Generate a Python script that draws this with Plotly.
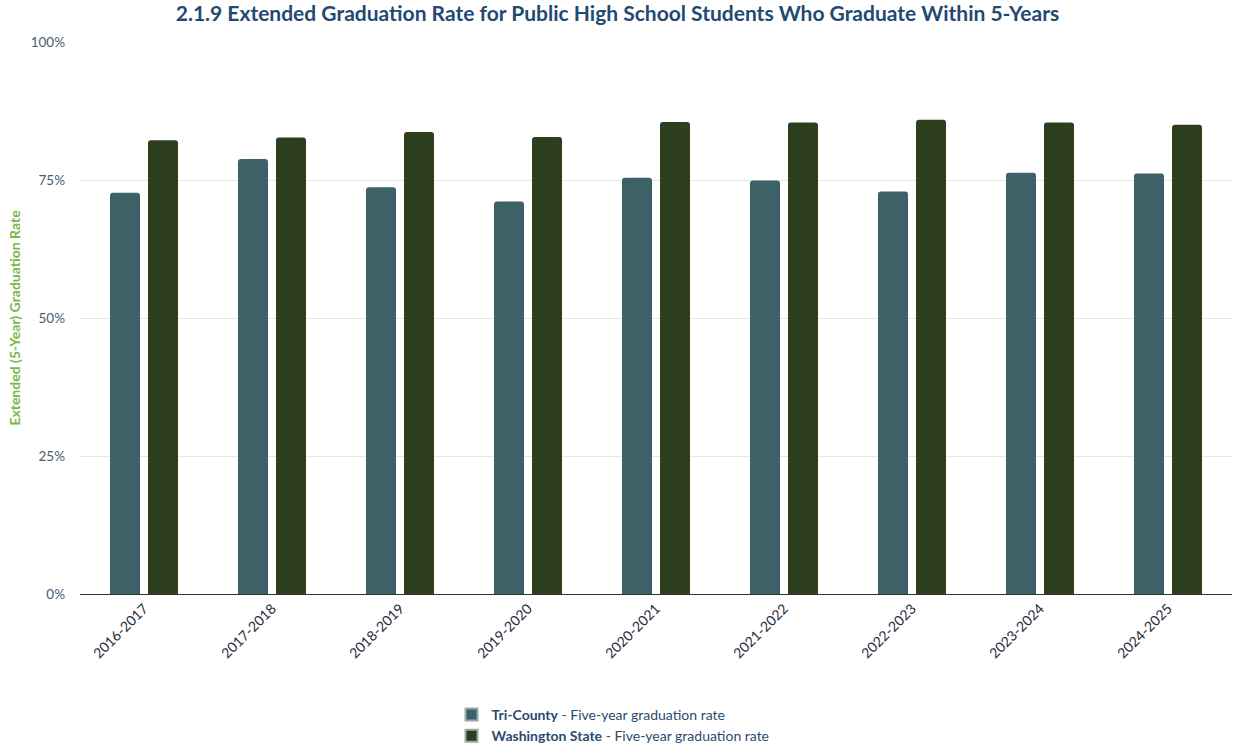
import plotly.graph_objects as go

years = ["2016-2017", "2017-2018", "2018-2019", "2019-2020", "2020-2021",
         "2021-2022", "2022-2023", "2023-2024", "2024-2025"]
tri_county = [72.7, 78.8, 73.7, 71.1, 75.4, 74.9, 72.9, 76.3, 76.2]
washington = [82.2, 82.7, 83.7, 82.8, 85.5, 85.4, 85.9, 85.4, 85.0]
y_ticks = [0, 25, 50, 75, 100]
y_tick_labels = ["0%", "25%", "50%", "75%", "100%"]
series_names = ["<b>Tri-County</b> - Five-year graduation rate",
                "<b>Washington State</b> - Five-year graduation rate"]

TC_COLOR = "#3c6167"
WA_COLOR = "#2d3f1e"

fig = go.Figure()
fig.add_trace(go.Bar(
    x=years, y=tri_county, name=series_names[0], showlegend=False,
    legendgroup="tc", marker=dict(color=TC_COLOR, line=dict(width=0)),
))
fig.add_trace(go.Bar(
    x=years, y=washington, name=series_names[1], showlegend=False,
    legendgroup="wa", marker=dict(color=WA_COLOR, line=dict(width=0)),
))
# legend entries with square swatches
for nm, col, grp in [(series_names[0], TC_COLOR, "tc"), (series_names[1], WA_COLOR, "wa")]:
    fig.add_trace(go.Scatter(
        x=[None], y=[None], mode="markers", name=nm, legendgroup=grp,
        marker=dict(symbol="square", size=12, color=col,
                    line=dict(color="#9aa8a8", width=1)),
    ))

fig.update_layout(
    width=1235, height=748,
    margin=dict(l=80, r=3, t=42, b=154, autoexpand=False),
    paper_bgcolor="white", plot_bgcolor="white",
    font=dict(family="Lato", color="#333333"),
    title=dict(
        text="<b>2.1.9 Extended Graduation Rate for Public High School Students Who Graduate Within 5-Years</b>",
        x=0.5, xanchor="center", y=0.982, yanchor="middle",
        font=dict(family="Lato", size=21, color="#1f4a72"),
    ),
    barmode="group", bargap=0.406, bargroupgap=0.21,
    barcornerradius=3,
    showlegend=True,
    legend=dict(
        orientation="v", x=0.4627, xanchor="center", y=-0.19, yanchor="top",
        font=dict(family="Lato", size=14, color="#2b4a6e"),
        traceorder="normal", itemsizing="constant",
        tracegroupgap=0,
    ),
    xaxis=dict(
        type="category", tickangle=-45, automargin=False,
        tickfont=dict(family="Lato", size=14, color="#1f2a3a"),
        showline=True, linecolor="#333333", linewidth=1,
        ticks="", showgrid=False,
    ),
    yaxis=dict(
        range=[0, 100], tickvals=y_ticks, ticktext=y_tick_labels, automargin=False,
        tickfont=dict(family="Lato", size=13.5, color="#4a5a72"),
        showgrid=True, gridcolor="#e6e6e6", gridwidth=1,
        zeroline=False, showline=False, ticks="",
        ticklabelstandoff=14,
        title=dict(text="<b>Extended (5-Year) Graduation Rate</b>",
                   font=dict(family="Lato", size=14, color="#7ab648"),
                   standoff=6),
    ),
)

fig.write_html(
    "out.html",
    config={"displayModeBar": False},
    post_script="document.body.style.margin='0';document.body.style.overflow='hidden';",
)
